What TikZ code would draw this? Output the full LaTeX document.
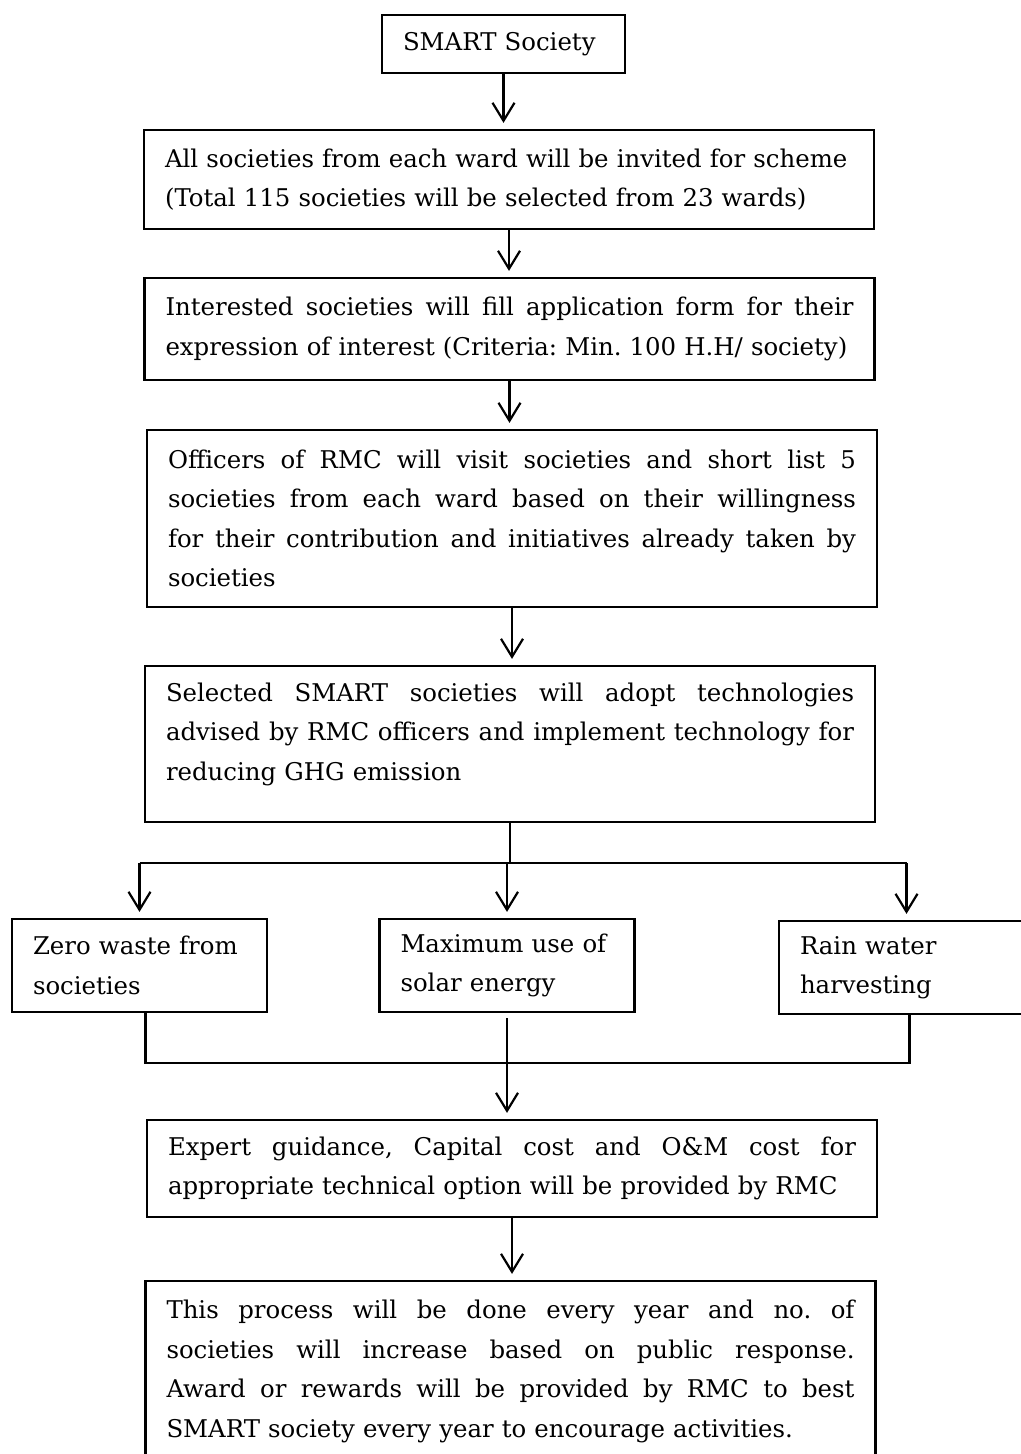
\documentclass[tikz,border=0pt]{standalone}
\usepackage{fontspec}
\setmainfont{DejaVu Serif}
\usetikzlibrary{arrows.meta}
\setlength{\parindent}{0pt}
\frenchspacing
\newcommand\fillline[1]{{\spaceskip=.3333em plus 1em minus .05em\relax
  \makebox[344pt][s]{#1}}}

\begin{document}
\begin{tikzpicture}[x=0.5pt, y=-0.5pt,
  box/.style={draw, line width=1.1pt, inner xsep=10.5pt, inner ysep=0pt, align=left,
    font=\fontsize{12.2}{19.75}\selectfont},
  mainbox/.style={box, text width=344pt},
  smallbox/.style={box, text width=106.5pt, minimum height=46.5pt},
  link/.style={line width=1.1pt},
  flow/.style={link, -{Straight Barb[length=9pt,width=11pt]}, shorten >=3pt}]

\useasboundingbox (0,0) rectangle (1021,1454);

\node[box, text width=100.5pt, minimum height=29pt] (soc) at (503.5,44) {SMART Society};

\node[mainbox, minimum height=49.5pt] (inv) at (509,179.5)
  {All societies from each ward will be invited for scheme\\
   (Total 115 societies will be selected from 23 wards)};

\node[mainbox, minimum height=51pt] (app) at (509.5,329)
  {\fillline{Interested societies will fill application form for their}\\
   expression of interest (Criteria: Min. 100 H.H/ society)};

\node[mainbox, minimum height=88.5pt] (visit) at (512,518.5)
  {\fillline{Officers of RMC will visit societies and short list 5}\\
   \fillline{societies from each ward based on their willingness}\\
   \fillline{for their contribution and initiatives already taken by}\\
   societies};

\node[mainbox, minimum height=78pt] (adopt) at (510,744)
  {\fillline{Selected SMART societies will adopt technologies}\\
   \fillline{advised by RMC officers and implement technology for}\\
   reducing GHG emission\\[-7pt]\mbox{}};

%%

\node[smallbox] (waste) at (139.5,965.5) {Zero waste from\\societies};
\node[smallbox] (solar) at (507,965.5) {Maximum use of\\solar energy};
\node[smallbox] (rain) at (906.5,967.5) {Rain water\\harvesting};

%%

\node[mainbox, minimum height=48.5pt] (cost) at (512,1168.5)
  {\fillline{Expert guidance, Capital cost and O\&M cost for}\\
   appropriate technical option will be provided by RMC};

\node[mainbox, minimum height=90.5pt] (yearly) at (510.5,1371.5)
  {\fillline{This process will be done every year and no. of}\\
   \fillline{societies will increase based on public response.}\\
   \fillline{Award or rewards will be provided by RMC to best}\\
   SMART society every year to encourage activities.};

%%

\draw[flow] (soc.south) -- (soc.south |- inv.north);
\draw[flow] (inv.south) -- (inv.south |- app.north);
\draw[flow] (app.south) -- (app.south |- visit.north);
\draw[flow] (visit.south) -- (visit.south |- adopt.north);

\coordinate (split) at (510,863);
\draw[link] (adopt.south) -- (split);
\draw[link] (waste.north |- split) -- (rain.north |- split);
\foreach \n in {waste,solar,rain}
  \draw[flow] (\n.north |- split) -- (\n.north);

\coordinate (join) at (510,1063);
\draw[link] ([xshift=3pt]waste.south) -- ([xshift=3pt]waste.south |- join)
  -- ([xshift=1.5pt]rain.south |- join) -- ([xshift=1.5pt]rain.south);
\draw[flow] ([yshift=-2.5pt]solar.south) -- (solar.south |- cost.north);

\draw[flow] (cost.south) -- (cost.south |- yearly.north);

\end{tikzpicture}
\end{document}
